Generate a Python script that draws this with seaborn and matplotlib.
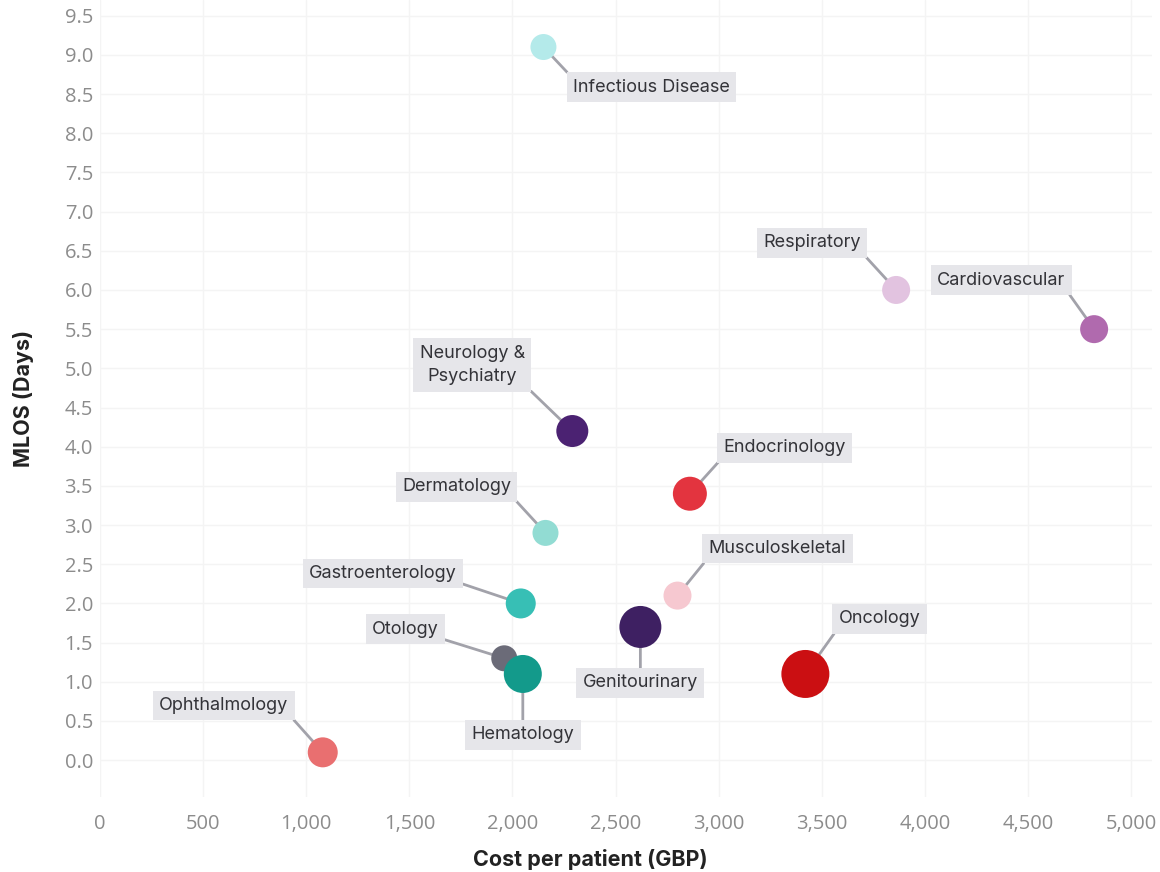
import matplotlib
matplotlib.use("Agg")
import matplotlib.pyplot as plt
import matplotlib.ticker as mticker
import numpy as np
import pandas as pd
import seaborn as sns

# Specialty data: cost per patient (GBP), mean length of stay (days), bubble size
specialties = [
    "Infectious Disease", "Respiratory", "Cardiovascular", "Neurology &\nPsychiatry",
    "Endocrinology", "Dermatology", "Musculoskeletal", "Gastroenterology",
    "Genitourinary", "Oncology", "Otology", "Hematology", "Ophthalmology",
]
cost_gbp = [2150, 3860, 4820, 2290, 2860, 2160, 2800, 2040, 2620, 3420, 1960, 2050, 1080]
mlos_days = [9.1, 6.0, 5.5, 4.2, 3.4, 2.9, 2.1, 2.0, 1.7, 1.1, 1.3, 1.1, 0.1]
bubble_size = [13, 14, 14, 16, 17, 13, 14, 15, 21, 24, 13, 19, 15]

colors = [
    "#b4eaea", "#e2c3e0", "#b06aae", "#4b2272", "#e3343f", "#92dcd3", "#f6c8d0",
    "#37bfb5", "#3e2062", "#cb0f12", "#6b6b78", "#139a8b", "#e96f70",
]

# Label offsets from each point (pixels) and the box corner the leader line leaves from
label_offsets = [
    (108, -40), (-84, 47), (-93, 49), (-100, 66), (95, 46), (-89, 46), (100, 47),
    (-138, 30), (0, -56), (74, 55), (-99, 29), (0, -61), (-99, 47),
]
leader_anchor = [
    (0.0, 1.0), (1.0, 0.0), (1.0, 0.0), (1.0, 0.0), (0.0, 0.0), (1.0, 0.0), (0.0, 0.0),
    (1.0, 0.0), (0.5, 1.0), (0.0, 0.0), (1.0, 0.0), (0.5, 1.0), (1.0, 0.0),
]

df = pd.DataFrame({
    "specialty": specialties,
    "cost": cost_gbp,
    "mlos": mlos_days,
    "size": bubble_size,
})

sns.set_theme(style="white")
plt.rcParams["font.family"] = ["Open Sans", "DejaVu Sans"]

fig = plt.figure(figsize=(11.6, 8.72), dpi=100)
ax = fig.add_axes([0.0862, 0.086, 0.9068, 0.914])

# marker area in points^2 from pixel radius
size_map = {s: (2 * r * 0.72) ** 2 for s, r in zip(specialties, bubble_size)}
palette = dict(zip(specialties, colors))

sns.scatterplot(
    data=df, x="cost", y="mlos", hue="specialty", size="specialty",
    sizes=size_map, palette=palette, linewidth=0, alpha=1.0,
    legend=False, ax=ax, zorder=3,
)

for name, x, y, (dx, dy), rp in zip(specialties, cost_gbp, mlos_days,
                                    label_offsets, leader_anchor):
    ax.annotate(
        name, xy=(x, y), xytext=(dx, dy), textcoords="offset pixels",
        ha="center", va="center", fontsize=13, color="#333338",
        family=["Inter", "DejaVu Sans"], linespacing=1.5,
        bbox=dict(boxstyle="square,pad=0.35", fc="#e6e6ea", ec="none"),
        arrowprops=dict(arrowstyle="-", color="#a2a2aa", lw=2,
                        shrinkA=0, shrinkB=0, relpos=rp),
        zorder=2,
    )

ax.set_xlim(0, 5100)
ax.set_ylim(-0.47, 9.7)
ax.xaxis.set_major_locator(mticker.MultipleLocator(500))
ax.yaxis.set_major_locator(mticker.FixedLocator(np.arange(0, 9.51, 0.5)))
ax.xaxis.set_major_formatter(mticker.FuncFormatter(lambda v, p: f"{int(v):,}"))
ax.yaxis.set_major_formatter(mticker.FormatStrFormatter("%.1f"))

ax.grid(True, color="#f4f4f4", lw=1)
ax.set_axisbelow(True)
for sp in ax.spines.values():
    sp.set_visible(False)

ax.tick_params(axis="both", labelsize=14.5, colors="#8c8c8c", length=0)
ax.tick_params(axis="x", pad=12)
ax.tick_params(axis="y", pad=5)

ax.set_xlabel("Cost per patient (GBP)", fontsize=15.5, fontweight="bold",
              color="#222222", family=["Inter", "DejaVu Sans"])
ax.set_ylabel("MLOS (Days)", fontsize=15.5, fontweight="bold",
              color="#222222", family=["Inter", "DejaVu Sans"], labelpad=22)
# x label sits centred under the whole figure rather than the axes
ax.xaxis.set_label_coords(0.466, -0.065)

fig.savefig("out.png", dpi=100)
